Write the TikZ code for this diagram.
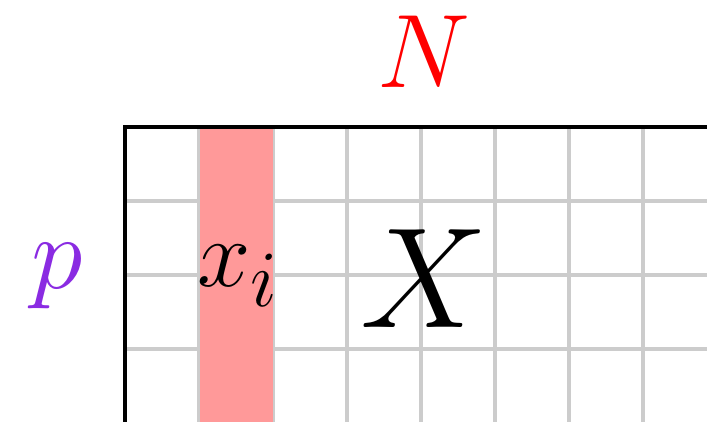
\documentclass[tikz,border=0pt]{standalone}
\definecolor{pviolet}{RGB}{138,43,226}
\definecolor{pinkfill}{RGB}{255,153,153}
\definecolor{gridgray}{RGB}{204,204,204}
\begin{document}
\begin{tikzpicture}[x=1pt,y=-1pt,
  lbl/.style={inner sep=0pt,anchor=base,font=\Huge},
  big/.style={scale=4.2},
  mid/.style={scale=3.85},
  huge/.style={scale=5.75}]
\useasboundingbox (0,0) rectangle (707,422);
\clip (0,0) rectangle (707,422);
\foreach \x in {199,273,347,421,495,569,643} \draw[gridgray,line width=4pt] (\x,127) -- (\x,430);
\foreach \y in {201,275,349} \draw[gridgray,line width=4pt] (125,\y) -- (720,\y);
\fill[pinkfill] (199.5,127) rectangle (272.5,430);
\draw[black,line width=4pt] (125,430) -- (125,127) -- (720,127);
\node[lbl,big,text=red] (N) at (424,88) {$N$};
\node[lbl,big,text=pviolet] (p) at (57,288) {$p$};
\node[lbl,mid] (xi) at (238,287) {$x_i$};
\node[lbl,huge] (X) at (424,327) {$X$};
\end{tikzpicture}
\end{document}
